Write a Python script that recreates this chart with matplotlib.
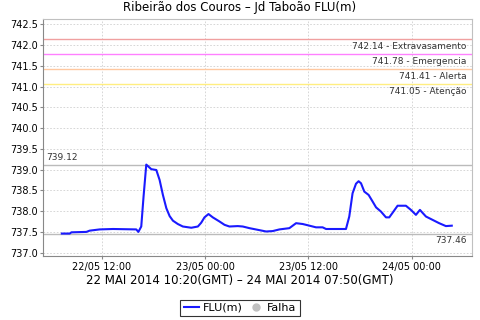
import numpy as np
import pandas as pd
import matplotlib
matplotlib.use('Agg')
import matplotlib.pyplot as plt
import matplotlib.dates as mdates
from matplotlib.lines import Line2D

# level readings (time, metres)
times = ['2014-05-22 07:20', '2014-05-22 08:15', '2014-05-22 08:27', '2014-05-22 10:11',
         '2014-05-22 10:34', '2014-05-22 11:44', '2014-05-22 13:17', '2014-05-22 15:59',
         '2014-05-22 16:14', '2014-05-22 16:34', '2014-05-22 16:50', '2014-05-22 17:09',
         '2014-05-22 17:44', '2014-05-22 18:19', '2014-05-22 18:42', '2014-05-22 19:05',
         '2014-05-22 19:29', '2014-05-22 19:52', '2014-05-22 20:15', '2014-05-22 20:49',
         '2014-05-22 21:24', '2014-05-22 22:23', '2014-05-22 23:09', '2014-05-22 23:32',
         '2014-05-22 23:55', '2014-05-23 00:23', '2014-05-23 00:53', '2014-05-23 01:40',
         '2014-05-23 02:15', '2014-05-23 02:49', '2014-05-23 03:47', '2014-05-23 04:22',
         '2014-05-23 05:09', '2014-05-23 06:07', '2014-05-23 07:05', '2014-05-23 07:51',
         '2014-05-23 08:38', '2014-05-23 09:47', '2014-05-23 10:34', '2014-05-23 11:20',
         '2014-05-23 12:07', '2014-05-23 12:53', '2014-05-23 13:39', '2014-05-23 14:03',
         '2014-05-23 16:22', '2014-05-23 16:45', '2014-05-23 17:08', '2014-05-23 17:32',
         '2014-05-23 17:50', '2014-05-23 18:07', '2014-05-23 18:30', '2014-05-23 19:00',
         '2014-05-23 19:28', '2014-05-23 19:52', '2014-05-23 20:26', '2014-05-23 21:01',
         '2014-05-23 21:24', '2014-05-23 21:47', '2014-05-23 22:22', '2014-05-23 23:20',
         '2014-05-23 23:55', '2014-05-24 00:30', '2014-05-24 00:58', '2014-05-24 01:16',
         '2014-05-24 01:40', '2014-05-24 02:26', '2014-05-24 03:12', '2014-05-24 03:59',
         '2014-05-24 04:40']
levels = [737.46, 737.46, 737.49, 737.50,
          737.53, 737.56, 737.57, 737.56,
          737.50, 737.63, 738.35, 739.12,
          739.01, 738.99, 738.75, 738.39,
          738.07, 737.88, 737.77, 737.69,
          737.63, 737.60, 737.63, 737.72,
          737.85, 737.93, 737.85, 737.75,
          737.67, 737.63, 737.64, 737.63,
          737.59, 737.55, 737.51, 737.52,
          737.56, 737.59, 737.71, 737.69,
          737.65, 737.61, 737.61, 737.57,
          737.57, 737.87, 738.43, 738.66,
          738.72, 738.67, 738.47, 738.39,
          738.23, 738.09, 737.99, 737.85,
          737.85, 737.96, 738.13, 738.13,
          738.03, 737.91, 738.03, 737.96,
          737.87, 737.79, 737.71, 737.64,
          737.65]

limit_values = [742.14, 741.78, 741.41, 741.05]
limit_names = ['Extravasamento', 'Emergencia', 'Alerta', 'Atenção']
limit_colors = ['#f0a0a0', '#ff80ff', '#ffc8a0', '#ffee80']

tick_times = ['2014-05-22 12:00', '2014-05-23 00:00', '2014-05-23 12:00', '2014-05-24 00:00']
tick_labels = ['22/05 12:00', '23/05 00:00', '23/05 12:00', '24/05 00:00']

t = pd.to_datetime(times)
vmax = max(levels)
vmin = min(levels)

fig = plt.figure(figsize=(4.8, 3.2), dpi=100)
ax = fig.add_axes([0.090, 0.200, 0.893, 0.740])

ax.plot(t, levels, color='#1a1aff', lw=1.5, zorder=5)

# limit lines
for val, name, col in zip(limit_values, limit_names, limit_colors):
    ax.axhline(val, color=col, lw=1)
    ax.text(0.988, val - 0.06, '%.2f - %s' % (val, name), transform=ax.get_yaxis_transform(),
            ha='right', va='top', fontsize=6.5, color='#333333')

# max / min markers
ax.axhline(vmax, color='#bbbbbb', lw=1)
ax.text(0.008, vmax + 0.06, '%.2f' % vmax, transform=ax.get_yaxis_transform(),
        ha='left', va='bottom', fontsize=6.5, color='#333333')
ax.axhline(vmin, color='#bbbbbb', lw=1)
ax.text(0.988, vmin - 0.06, '%.2f' % vmin, transform=ax.get_yaxis_transform(),
        ha='right', va='top', fontsize=6.5, color='#333333')

xlo = t[0] - pd.Timedelta(minutes=130)
xhi = t[-1] + pd.Timedelta(minutes=140)
ax.set_xlim(xlo, xhi)
ax.set_ylim(736.92, 742.62)
ax.set_yticks(np.arange(737.0, 742.51, 0.5))
ax.set_yticklabels(['%.1f' % v for v in np.arange(737.0, 742.51, 0.5)], fontsize=7)
ax.set_xticks(pd.to_datetime(tick_times))
ax.set_xticklabels(tick_labels, fontsize=7)
ax.grid(True, color='#d0d0d0', ls=(0, (2, 2)), lw=0.6)
ax.tick_params(axis='both', length=2, color='#888888', pad=2)

for side in ['top', 'right']:
    ax.spines[side].set_color('#c0c0c0')
for side in ['left', 'bottom']:
    ax.spines[side].set_color('#888888')

fig.text(0.5, 0.975, 'Ribeirão dos Couros – Jd Taboão FLU(m)', ha='center', va='center', fontsize=8.5)
fig.text(0.5, 0.122, '22 MAI 2014 10:20(GMT) – 24 MAI 2014 07:50(GMT)', ha='center', va='center',
         fontsize=8.5)

handles = [Line2D([], [], color='#1a1aff', lw=1.5),
           Line2D([], [], ls='none', marker='o', color='#c0c0c0', markersize=5)]
leg = fig.legend(handles, ['FLU(m)', 'Falha'], loc='center', bbox_to_anchor=(0.5, 0.0375),
                 ncol=2, fontsize=8, frameon=True, fancybox=False, handlelength=1.4,
                 handletextpad=0.3, columnspacing=0.5, borderpad=0.3, borderaxespad=0)
leg.get_frame().set_edgecolor('black')
leg.get_frame().set_linewidth(0.8)

fig.savefig('out.png', dpi=100)
